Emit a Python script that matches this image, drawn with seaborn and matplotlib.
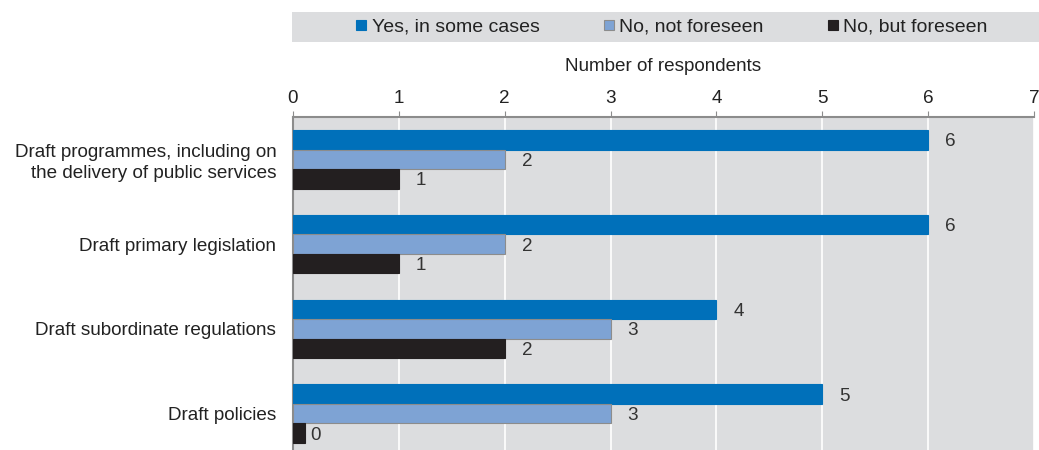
import matplotlib
matplotlib.use("Agg")
import matplotlib.pyplot as plt
import matplotlib.patches as mpatches
from matplotlib.lines import Line2D
import seaborn as sns
import pandas as pd

categories = [
    "Draft programmes, including on\nthe delivery of public services",
    "Draft primary legislation",
    "Draft subordinate regulations",
    "Draft policies",
]
series = ["Yes, in some cases", "No, not foreseen", "No, but foreseen"]
yes_some = [6, 6, 4, 5]
no_not_foreseen = [2, 2, 3, 3]
no_but_foreseen = [1, 1, 2, 0]
x_ticks = [0, 1, 2, 3, 4, 5, 6, 7]

colors = ["#0070ba", "#7ea3d4", "#231f20"]
edge_colors = ["#0070ba", "#8c8c8c", "#231f20"]
bg = "#dcdddf"
fs = 13.6

df = pd.DataFrame({
    "category": categories * 3,
    "series": [series[0]] * 4 + [series[1]] * 4 + [series[2]] * 4,
    "value": yes_some + no_not_foreseen + no_but_foreseen,
})

sns.set_theme(style="white")
plt.rcParams["font.family"] = ["Liberation Sans", "DejaVu Sans"]

fig = plt.figure(figsize=(10.39, 4.5), dpi=100)
ax = fig.add_axes([293 / 1039, -6 / 450, 741 / 1039, 339 / 450])
ax.set_facecolor(bg)

sns.barplot(data=df, y="category", x="value", hue="series", orient="h",
            palette=colors, saturation=1, width=0.69, ax=ax, legend=False,
            zorder=3)

# style bars per series and place value labels
for i, cont in enumerate(ax.containers):
    vals = [yes_some, no_not_foreseen, no_but_foreseen][i]
    for patch, v in zip(cont.patches, vals):
        patch.set_edgecolor(edge_colors[i])
        patch.set_linewidth(0.8)
        if v == 0:
            # small stub so that zero responses remain visible
            patch.set_width(0.11)
        y = patch.get_y() + patch.get_height() / 2
        ax.text(v + 0.21, y, f"{v}", ha="center", va="center_baseline",
                fontsize=fs, color="#333333", zorder=4)

ax.set_xlim(0, 7)
ax.set_xticks(x_ticks)
ax.xaxis.tick_top()
ax.xaxis.set_label_position("top")
ax.set_xlabel("Number of respondents", fontsize=fs, color="#222222", labelpad=13.5)
ax.set_ylabel("")
ax.tick_params(axis="x", which="both", top=True, length=4, width=0.8,
               color="#8c8c8c", labelsize=fs, labelcolor="#222222", pad=3.5)
ax.tick_params(axis="y", length=0, labelsize=fs, labelcolor="#222222", pad=12)
for lbl in ax.get_yticklabels():
    lbl.set_linespacing(1.3)
ax.grid(axis="x", color="white", linewidth=1.2, zorder=0)
ax.set_axisbelow(True)
for s in ["right", "bottom"]:
    ax.spines[s].set_visible(False)
for s in ["top", "left"]:
    ax.spines[s].set_visible(True)
    ax.spines[s].set_color("#8c8c8c")
    ax.spines[s].set_linewidth(1.5)
ax.set_ylim(3.5, -0.5)

# legend band across the top
fig.patches.append(mpatches.Rectangle((292 / 1039, 1 - 42 / 450), 747 / 1039, 30 / 450,
                                      transform=fig.transFigure, facecolor=bg,
                                      edgecolor="none", zorder=0))
handles = [Line2D([0], [0], marker="s", linestyle="none", markersize=7,
                  markerfacecolor=c, markeredgecolor=e, markeredgewidth=0.8)
           for c, e in zip(colors, edge_colors)]
fig.legend(handles, series, loc="center", bbox_to_anchor=(671 / 1039, 1 - 27 / 450),
           ncol=3, frameon=False, fontsize=14, handletextpad=0.2,
           columnspacing=3.2, handlelength=0.7, labelcolor="#222222")

fig.savefig("out.png", dpi=100)
